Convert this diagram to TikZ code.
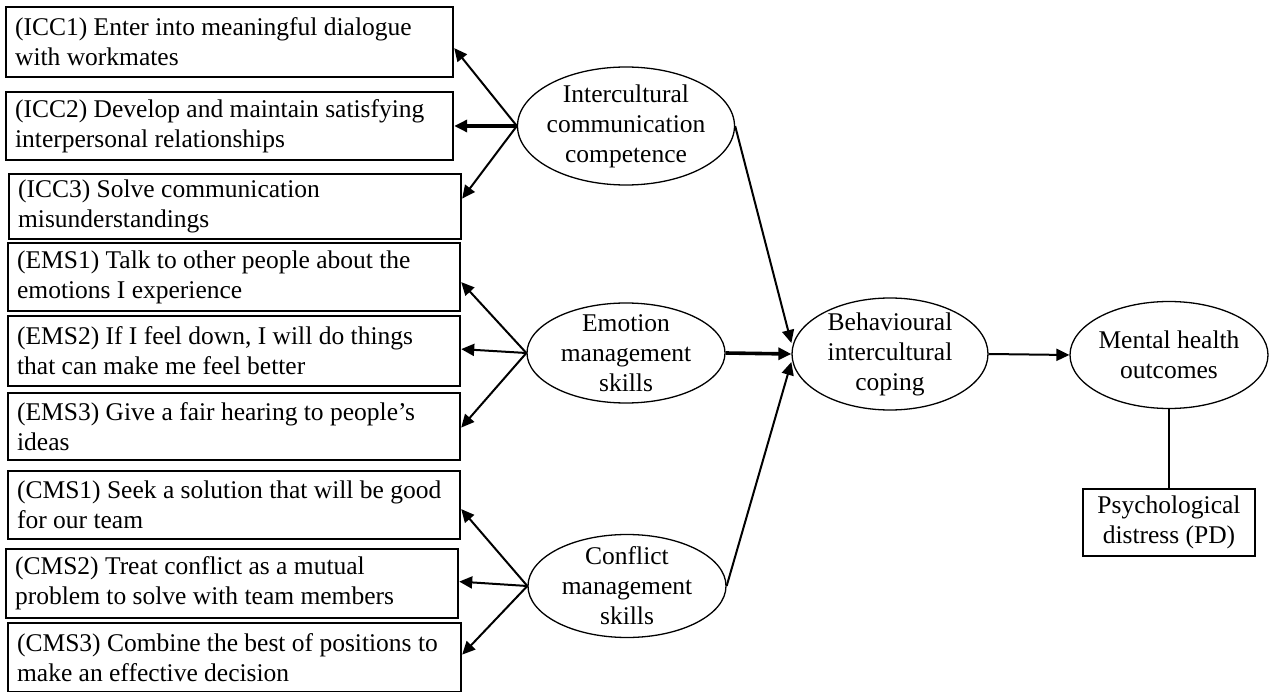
\documentclass[tikz,border=0pt]{standalone}
\usepackage{fontspec}
\setmainfont{Liberation Serif}
\usetikzlibrary{arrows.meta,shapes.geometric}

\begin{document}
\begin{tikzpicture}[x=1pt,y=-1pt,
  txt/.style={font=\fontsize{25.5}{30}\selectfont},
  item/.style={txt, draw, line width=2.2pt, rectangle, anchor=north west,
    align=flush left, inner xsep=9pt, inner ysep=0pt},
  latent/.style={ellipse, draw, line width=1.3pt, inner sep=0pt},
  lab/.style={txt, align=center, inner sep=0pt},
  arr/.style={-{Triangle[length=13pt,width=12pt]}, line width=2pt},
  heavy/.style={line width=3.6pt}
]
\useasboundingbox (0,0) rectangle (1274,692);

% indicator boxes: anchor at top-left corner, size per box;
% each printed line is kept whole in an \mbox
\node[item, minimum width=447, minimum height=70, text width=429] (icc1) at (5,6)
  {\mbox{(ICC1) Enter into meaningful dialogue}\\\mbox{with workmates}};
\node[item, minimum width=447, minimum height=68, text width=429] (icc2) at (5,91)
  {\mbox{(ICC2) Develop and maintain satisfying}\\\mbox{interpersonal relationships}};
\node[item, minimum width=452, minimum height=65, text width=434] (icc3) at (8,173)
  {\mbox{(ICC3) Solve communication}\\\mbox{misunderstandings}};
\node[item, minimum width=452, minimum height=68, text width=434] (ems1) at (7,242)
  {\mbox{(EMS1) Talk to other people about the}\\\mbox{emotions I experience}};
\node[item, minimum width=452, minimum height=70, text width=434] (ems2) at (7,315)
  {\mbox{(EMS2) If I feel down, I will do things}\\\mbox{that can make me feel better}};
\node[item, minimum width=452, minimum height=67, text width=434] (ems3) at (7,392)
  {\mbox{(EMS3) Give a fair hearing to people’s}\\\mbox{ideas}};
\node[item, minimum width=452, minimum height=68, text width=434] (cms1) at (7,470)
  {\mbox{(CMS1) Seek a solution that will be good}\\\mbox{for our team}};
\node[item, minimum width=452, minimum height=69, text width=434] (cms2) at (5,548)
  {\mbox{(CMS2) Treat conflict as a mutual}\\\mbox{problem to solve with team members}};
\node[item, minimum width=453, minimum height=69, text width=435] (cms3) at (7,622)
  {\mbox{(CMS3) Combine the best of positions to}\\\mbox{make an effective decision}};

% latent constructs
\node[latent, minimum width=217, minimum height=118] (icc) at (626,126) {};
\node[lab] (iccT) at (icc.center) {Intercultural\\communication\\competence};
\node[latent, minimum width=198, minimum height=100] (ems) at (626,353) {};
\node[lab] (emsT) at (ems.center) {Emotion\\management\\skills};
\node[latent, minimum width=198, minimum height=103] (cms) at (627,586) {};
\node[lab] (cmsT) at (cms.center) {Conflict\\management\\skills};
\node[latent, minimum width=196, minimum height=112] (bic) at (890,354) {};
\node[lab] (bicT) at (bic.center) {Behavioural\\intercultural\\coping};
\node[latent, minimum width=198, minimum height=107] (mho) at (1169,355) {};
\node[lab] (mhoT) at (mho.center) {Mental health\\outcomes};

% outcome indicator
\node[txt, draw, line width=2pt, align=center, inner sep=0pt,
      minimum width=172, minimum height=67] (pd) at (1169,522.5)
  {Psychological\\distress (PD)};

% loadings
\draw[arr] (icc.west) -- ([yshift=-6pt]icc1.east);
\draw[arr, heavy] (icc.west) -- (icc2.east |- icc.west);
\draw[arr] (icc.west) -- ([yshift=8pt]icc3.east);
\draw[arr] (ems.west) -- ([yshift=-5pt]ems1.east);
\draw[arr] (ems.west) -- ([yshift=2pt]ems2.east);
\draw[arr] (ems.west) -- ([yshift=-1pt]ems3.east);
\draw[arr] (cms.west) -- ([yshift=-4pt]cms1.east);
\draw[arr] (cms.west) -- ([yshift=2pt]cms2.east);
\draw[arr] (cms.west) -- ([yshift=3pt]cms3.east);

% structural paths
\draw[arr] (icc.east) -- ([yshift=11pt]bic.west);
\draw[arr, heavy] (ems.east) -- (bic.west);
\draw[arr] (cms.east) -- ([yshift=-8pt]bic.west);
\draw[arr] (bic.east) -- (mho.west);
\draw[line width=2pt] (mho.south) -- (pd.north);
\end{tikzpicture}
\end{document}
